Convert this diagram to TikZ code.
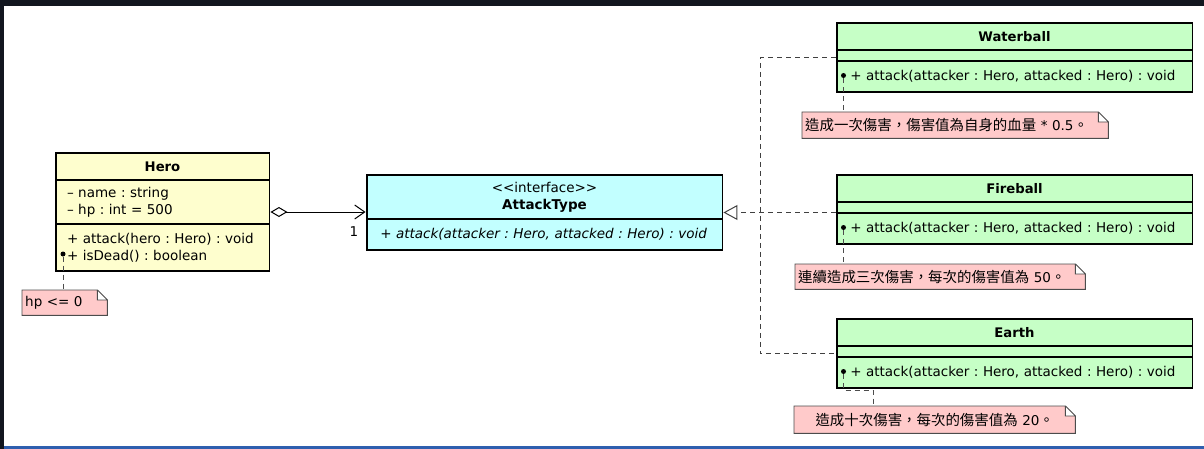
\documentclass[tikz,border=0pt]{standalone}
\usepackage{fontspec}
\setmainfont{DejaVu Sans}
\newfontfamily\cjk[Scale=1.07]{Noto Sans CJK TC}
\usetikzlibrary{positioning,fit,arrows.meta,backgrounds}

\definecolor{heroyellow}{HTML}{FEFECE}
\definecolor{ifcyan}{HTML}{C2FFFF}
\definecolor{implgreen}{HTML}{C6FFC6}
\definecolor{notepink}{HTML}{FFCACA}
\definecolor{framedark}{HTML}{12161F}
\definecolor{frameblue}{HTML}{2F5FAF}
\frenchspacing

\begin{document}
\begin{tikzpicture}[x=1pt, y=-1pt,
    every node/.style={font=\fontsize{13.5}{17}\selectfont},
    classtitle/.style={draw, line width=1pt, inner sep=0pt, minimum height=26pt, font=\fontsize{13.2}{17}\selectfont\bfseries},
    members/.style={draw, line width=1pt, align=left, inner xsep=11pt, inner ysep=0pt, minimum height=#1},
    members/.default=30pt,
    classframe/.style={draw, line width=1.9pt, inner sep=0pt},
    pindot/.style={circle, fill, inner sep=0pt, minimum size=5pt},
    note/.style={anchor=north west, align=left, inner xsep=3pt, inner ysep=0pt},
    notebody/.style={draw=black!70, fill=notepink, line width=0.9pt},
    notelink/.style={draw=black!70, line width=1pt, dash pattern=on 5pt off 4pt},
    realize/.style={draw=black!75, line width=1pt, dash pattern=on 5pt off 4pt},
    aggregation/.style={line width=1pt, arrows={Diamond[open,length=17pt,width=10pt]-Straight Barb[length=10pt,width=14pt]}}
]
\useasboundingbox (0,0) rectangle (1204,449);

% Window frame
\fill[framedark] (0,0) rectangle (1204,6);
\fill[framedark] (0,0) rectangle (4,449);
\fill[frameblue] (4,446) rectangle (1204,449);

% Hero
\node[classtitle, fill=heroyellow, minimum width=213pt, anchor=north] (hero) at (162.5,153) {Hero};
\node[members=43pt, fill=heroyellow, text width=191pt, below=0pt of hero] (heroattr) {– name : string\\– hp : int = 500};
\node[members=46pt, fill=heroyellow, text width=191pt, below=0pt of heroattr] (heroops) {+ attack(hero : Hero) : void\\+ isDead() : boolean};
\node[classframe, fit=(hero)(heroops)] (herobox) {};

% AttackType
\node[classtitle, fill=ifcyan, minimum width=355pt, minimum height=43pt, anchor=north, align=center, font=\fontsize{13.5}{17}\selectfont] (atype) at (544.5,175) {{<}{<}interface{>}{>}\\\textbf{AttackType}};
\node[members, fill=ifcyan, text width=333pt, below=0pt of atype, font=\fontsize{13.5}{17}\selectfont\itshape] (atypeops) {\,+ attack(attacker : Hero, attacked : Hero) : void};
\node[classframe, fit=(atype)(atypeops)] (attacktype) {};

% Attack kinds
\node[classtitle, fill=implgreen, minimum width=355pt, anchor=north] (waterball) at (1014.5,23) {Waterball};
\node[classtitle, fill=implgreen, minimum width=355pt, minimum height=10pt, below=0pt of waterball] (waterballattr) {};
\node[members, fill=implgreen, text width=333pt, below=0pt of waterballattr] (waterballops) {\,+ attack(attacker : Hero, attacked : Hero) : void};
\node[classframe, fit=(waterball)(waterballops)] (waterballbox) {};

\node[classtitle, fill=implgreen, minimum width=355pt, anchor=north] (fireball) at (1014.5,175) {Fireball};
\node[classtitle, fill=implgreen, minimum width=355pt, minimum height=10pt, below=0pt of fireball] (fireballattr) {};
\node[members, fill=implgreen, text width=333pt, below=0pt of fireballattr] (fireballops) {\,+ attack(attacker : Hero, attacked : Hero) : void};
\node[classframe, fit=(fireball)(fireballops)] (fireballbox) {};

\node[classtitle, fill=implgreen, minimum width=355pt, anchor=north] (earth) at (1014.5,319) {Earth};
\node[classtitle, fill=implgreen, minimum width=355pt, minimum height=10pt, below=0pt of earth] (earthattr) {};
\node[members, fill=implgreen, text width=333pt, below=0pt of earthattr] (earthops) {\,+ attack(attacker : Hero, attacked : Hero) : void};
\node[classframe, fit=(earth)(earthops)] (earthbox) {};

% Note anchors
\node[pindot] (herodot) at (63,254) {};
\node[pindot] (wdot) at ([xshift=7pt,yshift=1pt]waterballops.west) {};
\node[pindot] (fdot) at ([xshift=7pt,yshift=1pt]fireballops.west) {};
\node[pindot] (edot) at ([xshift=7pt,yshift=1pt]earthops.west) {};

% Notes
\node[note, text width=79pt, minimum height=25pt] (heronote) at (22,290) {hp <= 0};
\node[note, text width=300pt, minimum height=26pt] (wnote) at (802,112) {{\cjk 造成一次傷害，傷害值為自身的血量} * 0.5{\cjk 。}};
\node[note, text width=284pt, minimum height=25pt] (fnote) at (795,264) {{\cjk 連續造成三次傷害，每次的傷害值為} 50{\cjk 。}};
\node[note, align=center, text width=275pt, minimum height=27pt] (enote) at (794,406) {{\cjk 造成十次傷害，每次的傷害值為} 20{\cjk 。}};

\begin{scope}[on background layer]
\foreach \n in {heronote, wnote, fnote, enote}
  \draw[notebody] (\n.south west) -- (\n.north west) -- ([xshift=-10pt]\n.north east) -- ([yshift=-10pt]\n.north east) -- (\n.south east) -- cycle
    ([xshift=-10pt]\n.north east) |- ([yshift=-10pt]\n.north east);
\end{scope}

% Note links
\draw[notelink] (herodot) -- (herodot |- heronote.north);
\draw[notelink] (wdot) -- (wdot |- wnote.north);
\draw[notelink] (fdot) -- (fdot |- fnote.north);
\coordinate (ebend) at (873,390);
\draw[notelink] (edot) |- (ebend) -- (ebend |- enote.north);

% Relations
\draw[aggregation] (herobox.east) -- (herobox.east -| attacktype.west);
\node (mult) at (354,232) {1};

\coordinate (junction) at (760,211.5);
\draw[realize] (waterballbox.west) -| (junction) |- (earthbox.west);
\draw[realize, arrows={-Triangle[open,length=14pt,width=15pt]}] (fireballbox.west |- attacktype.east) -- (attacktype.east);

\end{tikzpicture}
\end{document}
